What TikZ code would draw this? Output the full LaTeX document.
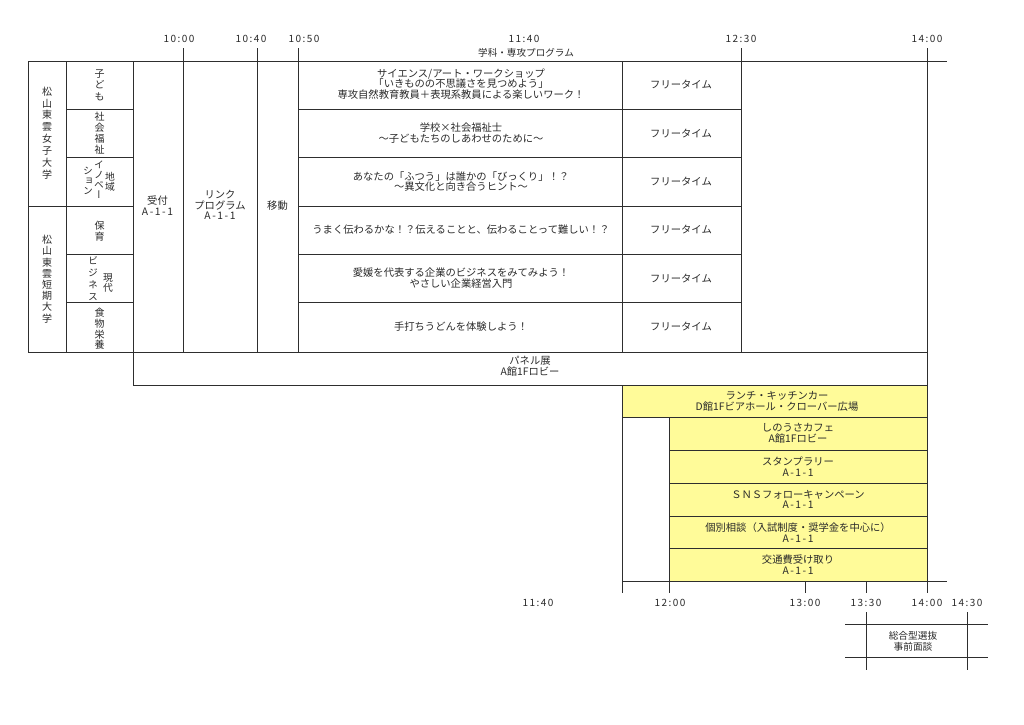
\documentclass[tikz,border=0pt]{standalone}
\usepackage{fontspec}
\usepackage{graphicx}
\setmainfont{Noto Sans CJK JP}
\newfontfamily\vfont[RawFeature=+vert]{Noto Sans CJK JP}
\newfontfamily\lfont[LetterSpace=15]{Noto Sans CJK JP}
\definecolor{ink}{HTML}{2E2E2E}
\definecolor{txt}{HTML}{2A2A2A}
\definecolor{yel}{RGB}{255,251,153}
\begin{document}
\begin{tikzpicture}[x=1pt,y=-1pt,
  grid/.style={draw=ink,line width=0.9pt},
  lbl/.style={inner sep=0pt,text=txt,align=center,font=\fontsize{10.3}{10.8}\selectfont},
  tlbl/.style={inner sep=0pt,text=txt,font=\fontsize{10}{11}\selectfont\lfont},
  vt/.style={inner sep=0pt,text=txt,align=center,font=\fontsize{10}{11.6}\vfont\selectfont},
  vts/.style={inner sep=0pt,text=txt,align=center,font=\fontsize{9.8}{10}\vfont\selectfont}]
\useasboundingbox (0,0) rectangle (1024,724);
\fill[white] (0,0) rectangle (1024,724);
% yellow areas
\fill[yel] (622,385) rectangle (927,417);
\fill[yel] (669,417) rectangle (927,581);
% top axis and table frame
\draw[grid] (28,61) -- (947,61);
\draw[grid] (28,61) -- (28,352);
\draw[grid] (66,61) -- (66,352);
\draw[grid] (133,61) -- (133,385);
\draw[grid] (183,48) -- (183,352);
\draw[grid] (257,48) -- (257,352);
\draw[grid] (298,48) -- (298,352);
\draw[grid] (622,61) -- (622,352);
\draw[grid] (741,48) -- (741,352);
\draw[grid] (927,48) -- (927,593);
% rows
\foreach \yy in {109.3,157.7,254,302.7} \draw[grid] (66,\yy) -- (133,\yy);
\draw[grid] (28,206) -- (133,206);
\foreach \yy in {109.3,157.7,206,254,302.7} \draw[grid] (298,\yy) -- (741,\yy);
\draw[grid] (28,352) -- (927,352);
\draw[grid] (133,385) -- (927,385);
% lunch area
\draw[grid] (622,385) -- (622,593);
\draw[grid] (622,417) -- (927,417);
\draw[grid] (669,417) -- (669,593);
\foreach \yy in {450,483.3,516,548.7} \draw[grid] (669,\yy) -- (927,\yy);
\draw[grid] (622,581) -- (947,581);
\draw[grid] (805,581) -- (805,593);
\draw[grid] (866,581) -- (866,593);
% interview box
\draw[grid] (866,612) -- (866,670);
\draw[grid] (967,612) -- (967,670);
\draw[grid] (845,624) -- (988,624);
\draw[grid] (845,657) -- (988,657);
% time labels top
\node[tlbl] (t1000) at (179,39) {10:00};
\node[tlbl] (t1040) at (251,39) {10:40};
\node[tlbl] (t1050) at (304,39) {10:50};
\node[tlbl] (t1140) at (524,39) {11:40};
\node[tlbl] (t1230) at (741,39) {12:30};
\node[tlbl] (t1400) at (927,39) {14:00};
\node[lbl,font=\fontsize{9.6}{11}\selectfont] (prog) at (526,53) {学科・専攻プログラム};
% time labels bottom
\node[tlbl] (b1140) at (538,603) {11:40};
\node[tlbl] (b1200) at (670,603) {12:00};
\node[tlbl] (b1300) at (805,603) {13:00};
\node[tlbl] (b1330) at (866,603) {13:30};
\node[tlbl] (b1400) at (927,603) {14:00};
\node[tlbl] (b1430) at (967,603) {14:30};
% university names
\node[vt,font=\fontsize{10}{11.9}\vfont\selectfont] (jc) at (47,133) {松\\山\\東\\雲\\女\\子\\大\\学};
\node[vt,font=\fontsize{10}{11.2}\vfont\selectfont] (tc) at (47,279) {松\\山\\東\\雲\\短\\期\\大\\学};
% departments
\node[vt] (d1) at (99.5,85) {子\\ど\\も};
\node[vt,font=\fontsize{10}{11}\vfont\selectfont] (d2) at (99.5,133.5) {社\\会\\福\\祉};
\node[vts] (d3a) at (110,182) {地\\域};
\node[vts] (d3b) at (99,180) {イ\\ノ\\ベ\\ー};
\node[vts] (d3c) at (88,180.5) {シ\\ョ\\ン};
\node[vt,font=\fontsize{10}{10.7}\vfont\selectfont] (d4) at (99.5,231) {保\\育};
\node[vts] (d5a) at (108,283) {現\\代};
\node[vts,font=\fontsize{9.8}{12}\vfont\selectfont] (d5b) at (93,279) {ビ\\ジ\\ネ\\ス};
\node[vt,font=\fontsize{10}{10.6}\vfont\selectfont] (d6) at (99.5,329) {食\\物\\栄\\養};
% columns
\node[lbl] (uke) at (157.5,206) {受付\\{\lfont A-1-1}};
\node[lbl] (link) at (220,205) {リンク\\プログラム\\{\lfont A-1-1}};
\node[lbl] (ido) at (277.5,206) {移動};
% programs
\node[lbl] (p1) at (461,84) {サイエンス/アート・ワークショップ\\「いきものの不思議さを見つめよう」\\専攻自然教育教員＋表現系教員による楽しいワーク！};
\node[lbl] (p2) at (461,133) {学校×社会福祉士\\～子どもたちのしあわせのために～};
\node[lbl] (p3) at (461,181.5) {あなたの「ふつう」は誰かの「びっくり」！？\\～異文化と向き合うヒント～};
\node[lbl] (p4) at (461,230) {うまく伝わるかな！？伝えることと、伝わることって難しい！？};
\node[lbl] (p5) at (461,278) {愛媛を代表する企業のビジネスをみてみよう！\\やさしい企業経営入門};
\node[lbl] (p6) at (461,327) {手打ちうどんを体験しよう！};
% free time
\foreach \yy/\nm in {85/f1,133.5/f2,182/f3,230/f4,278.5/f5,327/f6}
  \node[lbl] (\nm) at (681,\yy) {フリータイム};
% panel
\node[lbl] (panel) at (530,366) {パネル展\\A館1Fロビー};
% lunch and events
\node[lbl] (lunch) at (777,401) {ランチ・キッチンカー\\D館1Fビアホール・クローバー広場};
\node[lbl] (cafe) at (798,433.5) {しのうさカフェ\\A館1Fロビー};
\node[lbl] (stamp) at (798,466.5) {スタンプラリー\\{\lfont A-1-1}};
\node[lbl] (sns) at (798,499.5) {ＳＮＳフォローキャンペーン\\{\lfont A-1-1}};
\node[lbl] (soudan) at (798,532.5) {個別相談（入試制度・奨学金を中心に）\\{\lfont A-1-1}};
\node[lbl] (kotsu) at (798,565) {交通費受け取り\\{\lfont A-1-1}};
% interview
\node[lbl,font=\fontsize{9.7}{11}\selectfont] (mensetsu) at (913,641) {総合型選抜\\事前面談};
\end{tikzpicture}
\end{document}
